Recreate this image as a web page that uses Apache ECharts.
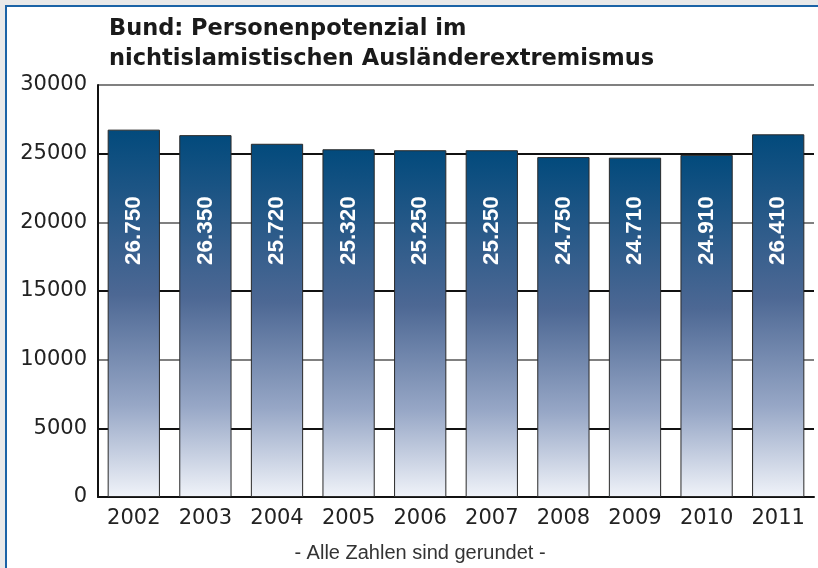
<!DOCTYPE html>
<html>
<head>
<meta charset="utf-8">
<script src="https://cdn.jsdelivr.net/npm/echarts@6/dist/echarts.min.js"></script>
<style>
  html, body { margin: 0; padding: 0; background: #e9e9e9; overflow: hidden; }
  #frame {
    position: absolute; left: 5px; top: 5px; width: 840px; height: 590px;
    background: #fff; border-left: 2px solid #1b63a6; border-top: 2px solid #1b63a6;
  }
  #main { position: absolute; left: 0; top: 0; width: 818px; height: 568px; }
</style>
</head>
<body>
<div id="frame"></div>
<div id="main"></div>
<script>
// Personenpotenzial je Jahr
let years = ['2002', '2003', '2004', '2005', '2006', '2007', '2008', '2009', '2010', '2011'];
let persons = [26750, 26350, 25720, 25320, 25250, 25250, 24750, 24710, 24910, 26410];
let yTicks = [0, 5000, 10000, 15000, 20000, 25000, 30000];

let titleText = 'Bund: Personenpotenzial im\nnichtislamistischen Ausländerextremismus';
let noteText = '- Alle Zahlen sind gerundet -';

function dotted(v) {
    return String(v).replace(/\B(?=(\d{3})+(?!\d))/g, '.');
}

const option = {
    animation: false,
    title: [{
        text: titleText,
        left: 104,
        top: 9,
        textStyle: {
            fontFamily: 'DejaVu Sans',
            fontWeight: 'bold',
            fontSize: 22.5,
            lineHeight: 30,
            color: '#1a1a1a'
        }
    }, {
        text: noteText,
        left: 415,
        textAlign: 'center',
        top: 538,
        textStyle: {
            fontFamily: 'Liberation Sans',
            fontWeight: 'normal',
            fontSize: 20,
            color: '#333'
        }
    }],
    grid: {
        left: 98,
        right: 4,
        top: 85,
        bottom: 71,
        containLabel: false
    },
    xAxis: {
        type: 'category',
        data: years,
        axisLine: { lineStyle: { color: '#111', width: 2 } },
        axisTick: { inside: true, length: 7, lineStyle: { color: '#111', width: 2 } },
        axisLabel: {
            margin: 11,
            fontFamily: 'DejaVu Sans',
            fontSize: 21,
            color: '#222'
        }
    },
    yAxis: {
        type: 'value',
        min: yTicks[0],
        max: yTicks[yTicks.length - 1],
        interval: yTicks[1] - yTicks[0],
        axisLine: { show: true, lineStyle: { color: '#111', width: 2 } },
        axisTick: { show: false },
        splitLine: { lineStyle: { color: ['#808080', '#111'], width: 2 } },
        axisLabel: {
            margin: 11,
            padding: [4, 0, 0, 0],
            fontFamily: 'DejaVu Sans',
            fontSize: 21,
            color: '#222',
            formatter: v => String(v)
        }
    },
    series: [{
        name: 'Personenpotenzial',
        type: 'bar',
        data: persons,
        barWidth: '73%',
        itemStyle: {
            borderColor: '#2a2a2a',
            borderWidth: 1,
            color: {
                type: 'linear', x: 0, y: 0, x2: 0, y2: 1,
                colorStops: [
                    { offset: 0, color: '#024a7c' },
                    { offset: 0.45, color: '#4d6894' },
                    { offset: 0.75, color: '#97a7c6' },
                    { offset: 1, color: '#f0f3f9' }
                ]
            }
        },
        label: {
            show: true,
            position: 'insideBottom',
            distance: 232,
            rotate: 90,
            align: 'left',
            verticalAlign: 'middle',
            fontFamily: 'Liberation Sans',
            fontWeight: 'bold',
            fontSize: 22.5,
            color: '#fff',
            formatter: p => dotted(p.value)
        }
    }]
};

let plot = echarts.init(document.querySelector('#main'));
plot.setOption(option);
</script>
</body>
</html>
